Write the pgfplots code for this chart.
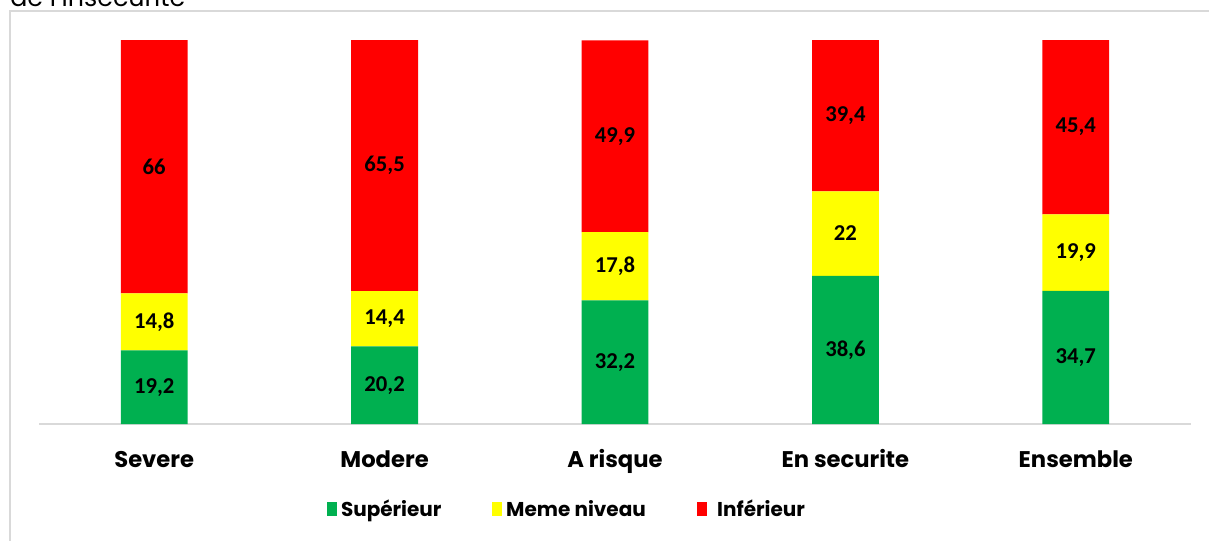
\documentclass[border=0pt]{standalone}
\usepackage{pgfplots}
\pgfplotsset{compat=1.18}
\usepackage{pgfplotstable}
\usepackage{fontspec}
\setmainfont{Poppins}
\newfontfamily\carlito{Carlito}
\definecolor{cgreen}{HTML}{00B050}
\definecolor{cyellow}{HTML}{FFFF00}
\definecolor{cred}{HTML}{FF0000}
\definecolor{framegray}{HTML}{D9D9D9}
\pgfplotstableread{
cat g y r
0 19.2 14.8 66
1 20.2 14.4 65.5
2 32.2 17.8 49.9
3 38.6 22 39.4
4 34.7 19.9 45.4
}\data
\pgfplotstablecreatecol[expr={\thisrow{g}/2}]{gm}\data
\pgfplotstablecreatecol[expr={\thisrow{g}+\thisrow{y}/2}]{ym}\data
\pgfplotstablecreatecol[expr={\thisrow{g}+\thisrow{y}+\thisrow{r}/2}]{rm}\data
\pgfplotsset{
  myleg/.style={legend image code/.code={\fill[##1, draw=none] (0pt,-5pt) rectangle (7.5pt,5pt);}},
  mygeom/.style={at={(29.25pt,-318pt)}, anchor=south west,
  scale only axis, width=864pt, height=288pt,
  xmin=-0.5, xmax=4.5, ymin=0, ymax=100},
}
\begin{document}
\begin{tikzpicture}[x=0.75pt,y=-0.75pt]
\useasboundingbox (0,0) rectangle (1209,540);
\fill[white] (0,0) rectangle (1209,540);
\node[anchor=base west, inner sep=0pt, font=\fontsize{19}{21}\selectfont] at (10,6.5) {de l'insécurité};
\draw[framegray, line width=1.5pt] (10,545) -- (10,11) -- (1215,11);
\begin{axis}[
  mygeom,
  ybar stacked, bar width=0.29,
  hide y axis, axis x line*=bottom,
  x axis line style={draw=framegray, line width=1.5pt, -},
  xtick=data, xticklabels={Severe,Modere,A risque,En securite,Ensemble},
  xtick style={draw=none}, major tick length=0pt,
  xticklabel style={font=\fontsize{17}{20}\selectfont\bfseries, anchor=base, yshift=-32.25pt},
  legend columns=3,
  legend style={at={(0.25,-0.2214)}, anchor=west, draw=none, fill=none, inner sep=0pt, outer sep=0pt,
    font=\fontsize{15}{17}\selectfont\bfseries,
    nodes={inner sep=0pt},
    /tikz/every odd column/.append style={column sep=3pt},
    /tikz/every even column/.append style={column sep=38pt}},
  legend cell align=left,
]
\addplot[fill=cgreen, draw=none, myleg] table[x=cat,y=g]{\data};
\addplot[fill=cyellow, draw=none, myleg] table[x=cat,y=y]{\data};
\addplot[fill=cred, draw=none, myleg] table[x=cat,y=r]{\data};
\legend{Supérieur, Meme niveau, \hspace{5pt}Inférieur}
\end{axis}
\begin{axis}[
  mygeom, hide axis,
  nodes near coords={\pgfmathprintnumber[assume math mode=true, use comma, fixed, precision=1]{\pgfplotspointmeta}},
  every node near coord/.append style={font={\fontsize{17}{18}\selectfont\carlito\bfseries}, anchor=center},
]
\addplot[draw=none, mark=none, point meta=explicit] table[x=cat,y=gm,meta=g]{\data};
\addplot[draw=none, mark=none, point meta=explicit] table[x=cat,y=ym,meta=y]{\data};
\addplot[draw=none, mark=none, point meta=explicit] table[x=cat,y=rm,meta=r]{\data};
\end{axis}
\end{tikzpicture}
\end{document}
